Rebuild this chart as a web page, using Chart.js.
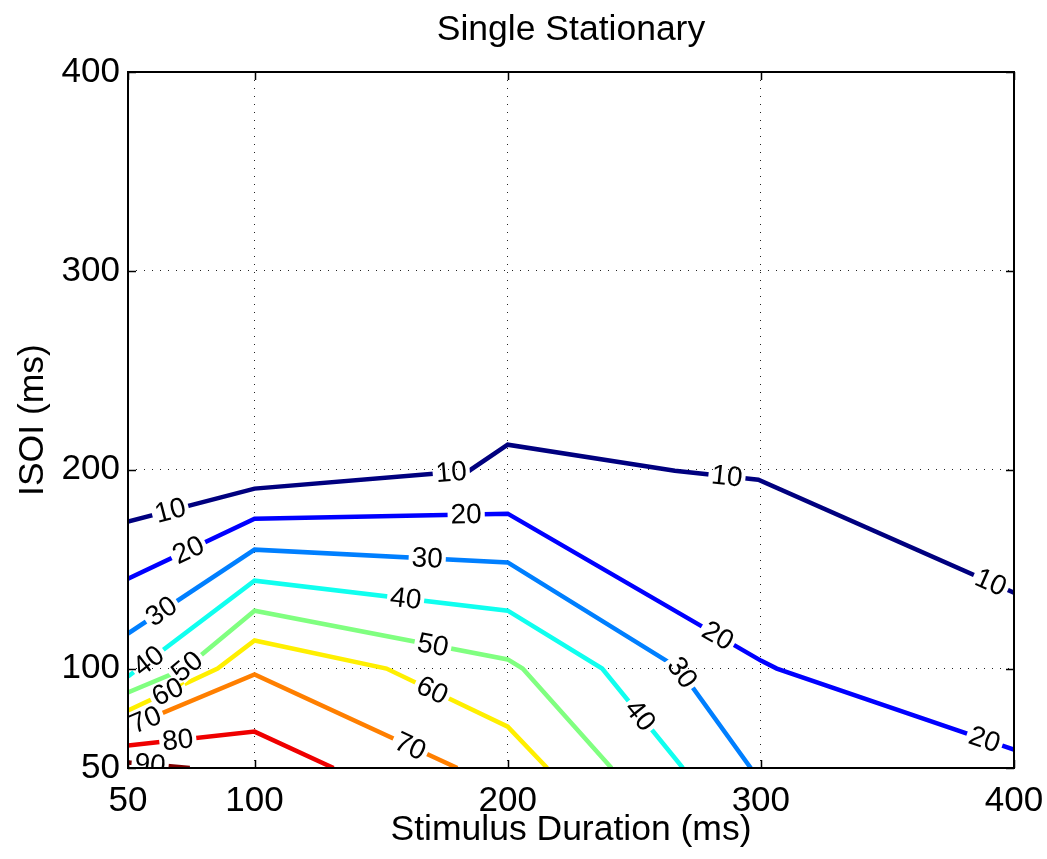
<!DOCTYPE html>
<html><head><meta charset="utf-8">
<script src="https://cdn.jsdelivr.net/npm/chart.js@4.4.1/dist/chart.umd.min.js"></script>
<style>html,body{margin:0;padding:0;background:#fff;} #wrap{width:1047px;height:859px;}</style>
</head><body><div id="wrap"><canvas id="c" width="1047" height="859"></canvas></div>
<script>
// ---- data ----
const chartTitle = 'Single Stationary';
const xLabel = 'Stimulus Duration (ms)';
const yLabel = 'ISOI (ms)';
const xTicks = [50, 100, 200, 300, 400];
const yTicks = [50, 100, 200, 300, 400];
const levels = [10, 20, 30, 40, 50, 60, 70, 80, 90];
const c10x = [50, 100, 184.8, 200, 266, 299, 400];
const c10y = [173.9, 190.5, 199.5, 212.6, 199.5, 195, 138.2];
const c20x = [50, 100, 200, 300, 306.3, 400];
const c20y = [145.2, 175.4, 177.9, 104, 100, 59.3];
const c30x = [50, 100, 200, 267.7, 296];
const c30y = [117.6, 159.8, 153.4, 100, 50];
const c40x = [50, 100, 200, 237.3, 269.2];
const c40y = [96, 144.2, 129.1, 100, 50];
const c50x = [50, 72.5, 100, 200, 205.9, 241];
const c50y = [88, 100, 129.1, 104.6, 100, 50];
const c60x = [50, 85.4, 100, 152.1, 200, 215.6];
const c60y = [78.9, 100, 114.1, 100, 70.8, 50];
const c70x = [50, 100, 180.1];
const c70y = [70.4, 97, 50];
const c80x = [50, 100, 131.2];
const c80y = [61.3, 68.3, 50];
const c90x = [50, 74.4];
const c90y = [52.8, 50];
const labelLevel = [10, 10, 10, 10, 20, 20, 20, 20, 30, 30, 30, 40, 40, 40, 50, 50, 60, 60, 70, 70, 80, 90];
const labelX = [66.5, 177.7, 286.6, 390.3, 73.6, 183.6, 282.6, 388, 62.5, 168.2, 268.4, 58.6, 159.6, 252.3, 72.4, 170.2, 65.8, 169.8, 56.7, 161.1, 69.7, 58.7];
const labelY = [180.4, 198.5, 196.5, 141.7, 160.3, 176.9, 115.6, 62.8, 130.2, 155.3, 97.5, 103, 134.2, 76.4, 102.5, 110.1, 88, 88, 74.9, 59.8, 63.8, 51.3];

// ---- styles ----
const lineColors = ['#00007F', '#0000FF', '#007FFF', '#10FFEF', '#80FF80', '#FFEF00', '#FF7F00', '#EF0000', '#7F0000'];
const FONT = "'Liberation Sans', Arial, Helvetica, sans-serif";
const labelFontSize = 28;

const xs = [c10x, c20x, c30x, c40x, c50x, c60x, c70x, c80x, c90x];
const ys = [c10y, c20y, c30y, c40y, c50y, c60y, c70y, c80y, c90y];

const datasets = levels.map((lv, i) => ({
  label: String(lv),
  xAxisID: 'x',
  yAxisID: 'y',
  data: xs[i].map((x, j) => ({ x: x, y: ys[i][j] })),
  borderColor: lineColors[i],
  borderWidth: 4.5,
  pointRadius: 0,
  tension: 0,
  fill: false
}));

function computeBoxes(chart) {
  const ctx = chart.ctx;
  const sx = chart.scales.x, sy = chart.scales.y;
  ctx.save();
  ctx.font = labelFontSize + 'px ' + FONT;
  const boxes = [];
  for (let i = 0; i < labelLevel.length; i++) {
    const di = levels.indexOf(labelLevel[i]);
    const px = sx.getPixelForValue(labelX[i]), py = sy.getPixelForValue(labelY[i]);
    const pts = xs[di].map((x, j) => [sx.getPixelForValue(x), sy.getPixelForValue(ys[di][j])]);
    let best = null;
    for (let j = 0; j < pts.length - 1; j++) {
      const [x1, y1] = pts[j], [x2, y2] = pts[j + 1];
      const dx = x2 - x1, dy = y2 - y1;
      const L2 = dx * dx + dy * dy;
      let t = ((px - x1) * dx + (py - y1) * dy) / L2;
      t = Math.max(0, Math.min(1, t));
      const qx = x1 + t * dx, qy = y1 + t * dy;
      const d = (qx - px) ** 2 + (qy - py) ** 2;
      if (!best || d < best.d) best = { d, qx, qy, ang: Math.atan2(dy, dx) };
    }
    let a = best.ang;
    if (a > Math.PI / 2) a -= Math.PI;
    if (a < -Math.PI / 2) a += Math.PI;
    const text = String(labelLevel[i]);
    const w = ctx.measureText(text).width + 6;
    const h = labelFontSize * 0.8;
    boxes.push({ x: best.qx, y: best.qy, a, w, h, text });
  }
  ctx.restore();
  return boxes;
}

const contourPlugin = {
  id: 'contourPlugin',
  beforeDatasetsDraw(chart) {
    const ctx = chart.ctx;
    const boxes = computeBoxes(chart);
    chart.$boxes = boxes;
    ctx.save();
    ctx.beginPath();
    ctx.rect(0, 0, chart.width, chart.height);
    boxes.forEach(b => {
      const c = Math.cos(b.a), s = Math.sin(b.a);
      const hw = b.w / 2, hh = b.h / 2;
      const corners = [[-hw, -hh], [hw, -hh], [hw, hh], [-hw, hh]].map(([u, v]) => [b.x + u * c - v * s, b.y + u * s + v * c]);
      ctx.moveTo(corners[0][0], corners[0][1]);
      for (let k = 1; k < 4; k++) ctx.lineTo(corners[k][0], corners[k][1]);
      ctx.closePath();
    });
    ctx.clip('evenodd');
  },
  afterDatasetsDraw(chart) {
    const ctx = chart.ctx;
    ctx.restore();
    const a = chart.chartArea;
    ctx.save();
    ctx.beginPath();
    ctx.rect(a.left, a.top, a.right - a.left, a.bottom - a.top);
    ctx.clip();
    ctx.font = labelFontSize + 'px ' + FONT;
    ctx.fillStyle = '#000';
    ctx.textAlign = 'center';
    ctx.textBaseline = 'middle';
    chart.$boxes.forEach(b => {
      ctx.save();
      ctx.translate(b.x, b.y);
      ctx.rotate(b.a);
      ctx.fillText(b.text, 0, 1);
      ctx.restore();
    });
    ctx.restore();
    // axes box and inner ticks
    ctx.save();
    ctx.strokeStyle = '#000';
    ctx.lineWidth = 2;
    ctx.strokeRect(a.left, a.top, a.right - a.left, a.bottom - a.top);
    ctx.lineWidth = 1.5;
    const tl = 8;
    ctx.beginPath();
    xTicks.forEach(v => {
      const p = Math.round(chart.scales.x.getPixelForValue(v)) + 0.5;
      ctx.moveTo(p, a.bottom); ctx.lineTo(p, a.bottom - tl);
      ctx.moveTo(p, a.top); ctx.lineTo(p, a.top + tl);
    });
    yTicks.forEach(v => {
      const p = Math.round(chart.scales.y.getPixelForValue(v)) + 0.5;
      ctx.moveTo(a.left, p); ctx.lineTo(a.left + tl, p);
      ctx.moveTo(a.right, p); ctx.lineTo(a.right - tl, p);
    });
    ctx.stroke();
    ctx.restore();
  }
};

function zeroPad(s) { s.paddingLeft = 0; s.paddingRight = 0; s.paddingTop = 0; s.paddingBottom = 0; }

new Chart(document.getElementById('c'), {
  type: 'line',
  data: { datasets },
  plugins: [contourPlugin],
  options: {
    responsive: false,
    animation: false,
    devicePixelRatio: 1,
    layout: { padding: { left: 0, right: 33, top: 0, bottom: 0 } },
    plugins: {
      legend: { display: false },
      tooltip: { enabled: false },
      title: { display: false }
    },
    scales: {
      x: {
        type: 'linear', min: 50, max: 400, position: 'bottom',
        afterBuildTicks: s => { s.ticks = xTicks.map(v => ({ value: v })); },
        afterFit: s => { s.height = 91; zeroPad(s); },
        grid: { color: '#222', lineWidth: 1, drawTicks: false },
        border: { display: false, dash: [1, 7] },
        ticks: { color: '#000', font: { family: FONT, size: 35 }, padding: 12, maxRotation: 0, autoSkip: false },
        title: { display: true, text: xLabel, color: '#000', font: { family: FONT, size: 35.5 }, padding: { top: 0, bottom: 7 } }
      },
      xTop: {
        type: 'linear', min: 50, max: 400, position: 'top',
        afterFit: s => { s.height = 72; zeroPad(s); },
        grid: { display: false, drawTicks: false },
        border: { display: false },
        ticks: { display: false },
        title: { display: true, text: chartTitle, color: '#000', font: { family: FONT, size: 35.5 }, padding: { top: 9, bottom: 0 } }
      },
      y: {
        type: 'linear', min: 50, max: 400,
        afterBuildTicks: s => { s.ticks = yTicks.map(v => ({ value: v })); },
        afterFit: s => { s.width = 128; zeroPad(s); },
        grid: { color: '#222', lineWidth: 1, drawTicks: false },
        border: { display: false, dash: [1, 7] },
        ticks: { color: '#000', font: { family: FONT, size: 35 }, padding: 8, autoSkip: false },
        title: { display: true, text: yLabel, color: '#000', font: { family: FONT, size: 35.5 }, padding: { top: 12, bottom: 0 } }
      }
    }
  }
});
</script></body></html>
